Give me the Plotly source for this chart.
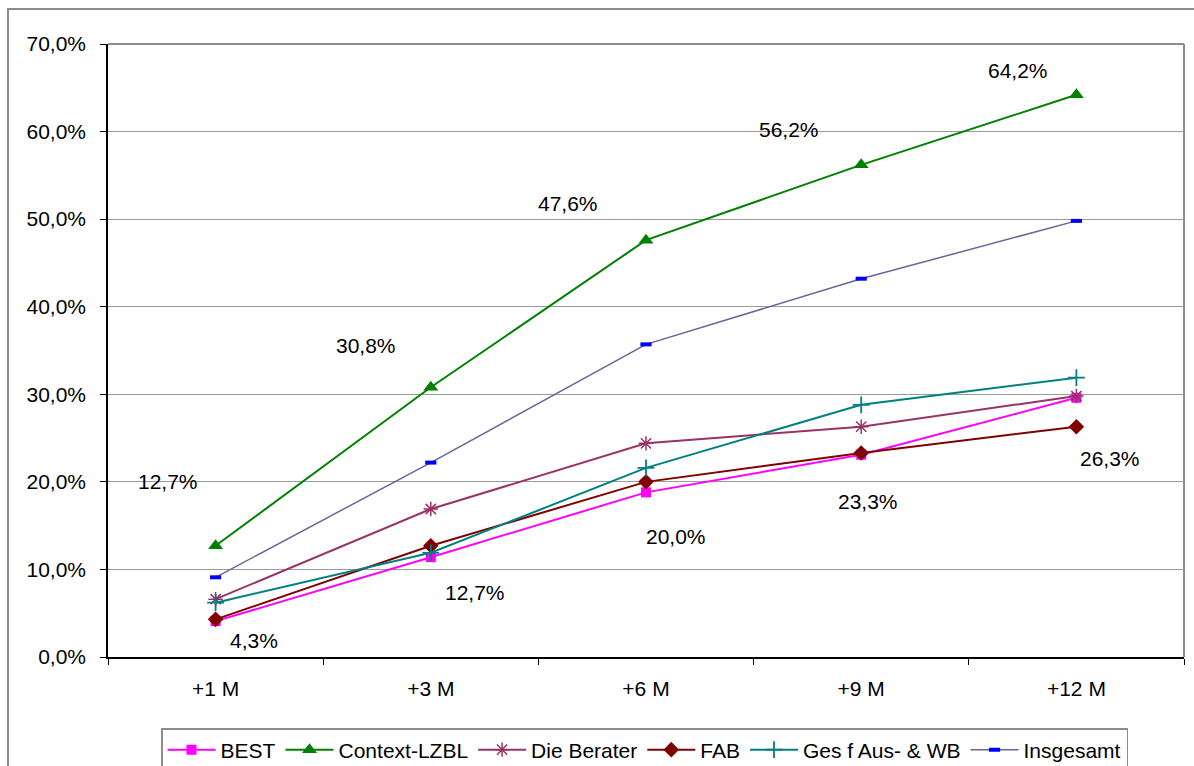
import plotly.graph_objects as go

# Categories (months after exit) and series values in percent
months = ["+1 M", "+3 M", "+6 M", "+9 M", "+12 M"]

best = [4.1, 11.4, 18.8, 23.1, 29.6]
context_lzbl = [12.7, 30.8, 47.6, 56.2, 64.2]
die_berater = [6.6, 16.9, 24.4, 26.3, 29.8]
fab = [4.3, 12.7, 20.0, 23.3, 26.3]
ges_aus_wb = [6.2, 11.9, 21.6, 28.8, 31.9]
insgesamt = [9.1, 22.2, 35.7, 43.2, 49.8]

y_ticks = [0, 10, 20, 30, 40, 50, 60, 70]

FONT = "Liberation Sans, Arial, sans-serif"


def pct(v):
    return f"{v:.1f}".replace(".", ",") + "%"


fig = go.Figure()

series = [
    ("BEST", best, "#FF00FF", dict(symbol="square", size=10, color="#FF00FF"), 2),
    ("Context-LZBL", context_lzbl, "#008000", dict(symbol="triangle-up", size=13, color="#008000"), 2),
    ("Die Berater", die_berater, "#993366",
     dict(symbol="asterisk-open", size=12, color="#993366", line=dict(color="#993366", width=1.5)), 2),
    ("FAB", fab, "#800000", dict(symbol="diamond", size=12, color="#800000"), 2),
    ("Ges f Aus- & WB", ges_aus_wb, "#008080",
     dict(symbol="cross-thin-open", size=12, color="#008080", line=dict(color="#008080", width=1.8)), 2),
    ("Insgesamt", insgesamt, "#666699",
     dict(symbol="line-ew-open", size=8, color="#0000FF", line=dict(color="#0000FF", width=4)), 1.5),
]

for name, vals, col, mk, lw in series:
    fig.add_trace(go.Scatter(
        x=months, y=vals, name=name, mode="lines+markers",
        line=dict(color=col, width=lw), marker=mk, hoverinfo="skip",
    ))

# Value labels for Context-LZBL (above left) and FAB (below right), offsets in px
ctx_shift = [(-48, 64), (-65, 42), (-78, 37), (-72, 35), (-58, 24)]
fab_shift = [(38, -21), (44, -47), (30, -55), (7, -49), (34, -32)]

annotations = []
for m, v, (dx, dy) in zip(months, context_lzbl, ctx_shift):
    annotations.append(dict(x=m, y=v, xref="x", yref="y", text=pct(v), showarrow=False,
                            xshift=dx, yshift=dy, font=dict(family=FONT, size=21, color="#000000")))
for m, v, (dx, dy) in zip(months, fab, fab_shift):
    annotations.append(dict(x=m, y=v, xref="x", yref="y", text=pct(v), showarrow=False,
                            xshift=dx, yshift=dy, font=dict(family=FONT, size=21, color="#000000")))

W, H = 1194, 766
PW, PH = 1076, 613
L, T = 108, 44


def px_x(p):
    return (p - L) / PW


def px_y(p):
    return (T + PH - p) / PH


shapes = [
    # outer chart frame
    dict(type="rect", xref="paper", yref="paper",
         x0=px_x(8), x1=px_x(1210), y0=px_y(9), y1=px_y(800),
         line=dict(color="#8c8c8c", width=2), layer="below"),
    # plot-area top and right edges
    dict(type="line", xref="paper", yref="paper", x0=0, x1=1, y0=1, y1=1,
         line=dict(color="#8c8c8c", width=2)),
    dict(type="line", xref="paper", yref="paper", x0=1, x1=1, y0=0, y1=1,
         line=dict(color="#8c8c8c", width=2)),
]

fig.update_layout(
    width=W, height=H,
    margin=dict(l=L, r=W - L - PW, t=T, b=H - T - PH, autoexpand=False),
    paper_bgcolor="#FFFFFF", plot_bgcolor="#FFFFFF",
    separators=",.",
    font=dict(family=FONT, size=20, color="#000000"),
    showlegend=True,
    legend=dict(orientation="h", xref="container", x=(152 + 1137) / 2 / W, xanchor="center",
                yref="container", y=1 - 728 / H, yanchor="top",
                bordercolor="#8c8c8c", borderwidth=1.5, bgcolor="#FFFFFF",
                font=dict(family=FONT, size=21, color="#000000"),
                itemwidth=48, tracegroupgap=0),
    annotations=annotations,
    shapes=shapes,
    hovermode=False,
)

fig.update_xaxes(
    type="category", range=[-0.5, 4.5], showgrid=False,
    showline=True, linecolor="#000000", linewidth=1.5,
    ticks="outside", tickson="boundaries", ticklen=6, tickcolor="#000000",
    tickfont=dict(family=FONT, size=21), ticklabelstandoff=12,
)
fig.update_yaxes(
    range=[0, 70], tickvals=y_ticks, ticktext=[pct(v) for v in y_ticks],
    showgrid=True, gridcolor="#9a9a9a", gridwidth=1.2,
    showline=True, linecolor="#000000", linewidth=1.5, zeroline=False,
    ticks="outside", ticklen=6, tickcolor="#000000",
    tickfont=dict(family=FONT, size=21), ticklabelstandoff=10,
)

fig.write_html("out.html")
